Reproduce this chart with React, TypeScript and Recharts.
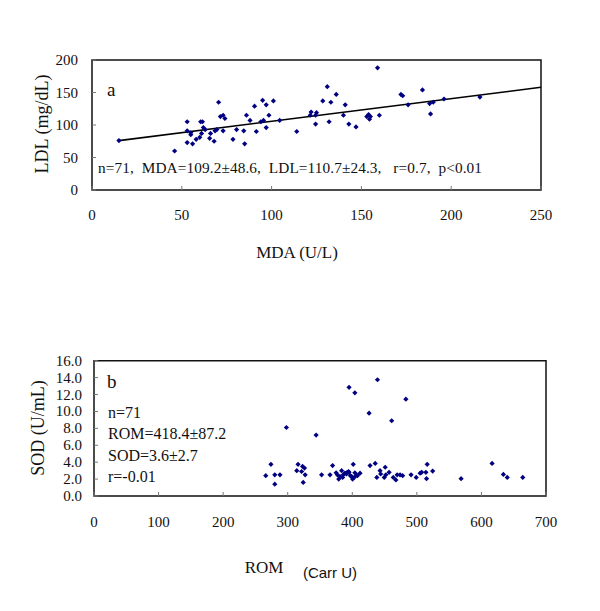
import React from "react";
import { ReferenceArea, ReferenceLine, Scatter, ScatterChart, XAxis, YAxis } from "recharts";

// panel a: MDA (U/L) vs LDL (mg/dL)
const mdaValues = [
  15, 46, 53, 53, 55, 55, 53, 56, 58, 60, 61, 60.5, 61.5, 63, 66, 65.5, 68, 68.5, 69.5, 70.5,
  71.5, 73, 74, 73, 78.5, 80.5, 84.5, 85, 86, 88, 90.5, 91.5, 94, 95, 95.5, 97, 97, 98.5, 101, 104.5,
  114, 121.5, 122, 124.5, 125, 124.5, 128.5, 131, 133, 132, 136, 141, 140, 143, 147, 159, 153, 154, 155, 154.5,
  160, 172, 173, 176, 184, 188, 188.5, 190, 196, 216, 62,
];
const ldlValues = [
  76, 60, 105, 91, 88, 85, 73, 71, 78, 81, 87, 105, 105, 93, 87, 79.5, 75, 91, 93, 135,
  113, 115, 110, 91, 78, 93, 91, 71, 115, 107, 129, 90, 105, 138, 107, 131, 96, 115, 137, 107,
  90, 115, 120, 115, 119, 101.5, 137, 159, 135, 105, 147, 131, 115, 101.5, 97, 188, 113, 116, 113, 109,
  115, 147, 145, 131, 154, 133, 117, 135, 140, 143, 96,
];
const trendMda = [15, 250];
const trendLdl = [76, 158];
const mdaTicks = [0, 50, 100, 150, 200, 250];
const ldlTicks = [0, 50, 100, 150, 200];

// panel b: ROM (Carr U) vs SOD (U/mL)
const romValues = [
  395, 298, 344, 266, 274, 280, 288, 280, 316, 314, 323, 326, 321.5, 327, 324, 352.5, 365.5, 369.5, 375, 377,
  381, 383.5, 386, 388.5, 391, 394, 404, 439, 483, 426, 461, 401.5, 391, 395, 404, 406, 408, 412, 400.5, 403,
  399, 427.5, 435.5, 438, 443, 444, 451, 449.5, 452, 457, 463.5, 467.5, 469.5, 474, 478, 491, 499, 505, 507.5, 516,
  514, 515, 524.5, 568.5, 616.5, 634, 640, 664, 379, 385, 397,
];
const sodValues = [
  12.85, 8.1, 7.2, 2.4, 3.75, 2.5, 2.5, 1.4, 3.75, 3.0, 3.5, 3.3, 2.9, 2.5, 1.6, 2.5, 2.5, 3.6, 2.75, 2.5,
  2.3, 3.0, 2.5, 2.7, 2.75, 2.9, 12.2, 13.75, 11.45, 9.8, 8.9, 3.75, 2.6, 2.8, 2.75, 2.5, 2.4, 2.7, 2.0, 2.2,
  2.3, 3.6, 3.85, 2.2, 3.0, 2.6, 3.4, 2.2, 2.5, 2.8, 2.2, 1.9, 2.5, 2.5, 2.4, 2.5, 2.2, 2.7, 2.8, 3.75,
  2.8, 2.05, 2.95, 2.05, 3.85, 2.55, 2.2, 2.2, 2.0, 2.2, 2.4,
];
const romTicks = [0, 100, 200, 300, 400, 500, 600, 700];
const sodTicks = [0, 2, 4, 6, 8, 10, 12, 14, 16];

const dataA = mdaValues.map((x, i) => ({ x, y: ldlValues[i] }));
const dataB = romValues.map((x, i) => ({ x, y: sodValues[i] }));

const SERIF = "'Liberation Serif', 'Times New Roman', serif";
const DOT = "#000080";

const Diamond = (p: any) => {
  const { cx, cy } = p;
  const r = 2.6;
  return <polygon points={`${cx},${cy - r} ${cx + r},${cy} ${cx},${cy + r} ${cx - r},${cy}`} fill={DOT} />;
};

const XTick = (p: any) => {
  const { x, y, payload, gap, fmt } = p;
  return (
    <g>
      <line x1={x} y1={y} x2={x} y2={y - 4} stroke="#777" strokeWidth={1} />
      <text x={x} y={y + gap} textAnchor="middle" dominantBaseline="central" fontFamily={SERIF} fontSize={15} fill="#111">
        {fmt ? fmt(payload.value) : payload.value}
      </text>
    </g>
  );
};

const YTick = (p: any) => {
  const { x, y, payload, gap, fmt } = p;
  return (
    <g>
      <line x1={x} y1={y} x2={x + 4} y2={y} stroke="#777" strokeWidth={1} />
      <text x={x - gap} y={y} textAnchor="end" dominantBaseline="central" fontFamily={SERIF} fontSize={15} fill="#111">
        {fmt ? fmt(payload.value) : payload.value}
      </text>
    </g>
  );
};

const abs = (left: number, top: number, extra: React.CSSProperties = {}): React.CSSProperties => ({
  position: "absolute",
  left,
  top,
  whiteSpace: "pre",
  lineHeight: 1,
  fontFamily: SERIF,
  color: "#111",
  ...extra,
});

export default function App() {
  return (
    <div style={{ position: "absolute", left: 0, top: 0, width: 600, height: 611, background: "#fff" }}>
      <div style={{ position: "absolute", left: 0, top: 0 }}>
        <ScatterChart width={600} height={260} margin={{ top: 60, right: 59, bottom: 0, left: 0 }}>
          <XAxis
            type="number"
            dataKey="x"
            domain={[0, 250]}
            ticks={mdaTicks}
            height={70}
            axisLine={false}
            tickLine={false}
            tickSize={0}
            tickMargin={0}
            interval={0}
            tick={(p: any) => <XTick {...p} gap={25} />}
          />
          <YAxis
            type="number"
            dataKey="y"
            domain={[0, 200]}
            ticks={ldlTicks}
            width={92}
            axisLine={false}
            tickLine={false}
            tickSize={0}
            tickMargin={0}
            interval={0}
            tick={(p: any) => <YTick {...p} gap={14} />}
          />
          <ReferenceArea x1={0} x2={250} y1={0} y2={200} fill="none" fillOpacity={0} stroke="#111" strokeWidth={1.5} />
          <ReferenceLine
            segment={[
              { x: trendMda[0], y: trendLdl[0] },
              { x: trendMda[1], y: trendLdl[1] },
            ]}
            stroke="#000"
            strokeWidth={1.6}
          />
          <Scatter data={dataA} shape={Diamond} isAnimationActive={false} />
        </ScatterChart>
      </div>

      <div style={{ position: "absolute", left: 0, top: 300 }}>
        <ScatterChart width={600} height={260} margin={{ top: 60.7, right: 54, bottom: 0, left: 0 }}>
          <XAxis
            type="number"
            dataKey="x"
            domain={[0, 700]}
            ticks={romTicks}
            height={64}
            axisLine={false}
            tickLine={false}
            tickSize={0}
            tickMargin={0}
            interval={0}
            tick={(p: any) => <XTick {...p} gap={26} />}
          />
          <YAxis
            type="number"
            dataKey="y"
            domain={[0, 16]}
            ticks={sodTicks}
            width={94}
            axisLine={false}
            tickLine={false}
            tickSize={0}
            tickMargin={0}
            interval={0}
            tick={(p: any) => <YTick {...p} gap={12} fmt={(v: number) => v.toFixed(1)} />}
          />
          <ReferenceArea x1={0} x2={700} y1={0} y2={16} fill="none" fillOpacity={0} stroke="#111" strokeWidth={1.5} />
          <Scatter data={dataB} shape={Diamond} isAnimationActive={false} />
        </ScatterChart>
      </div>

      {/* panel a texts */}
      <div style={abs(107, 90, { fontSize: 19, transform: "translateY(-55%)" })}>a</div>
      <div style={abs(98, 168, { fontSize: 15.3, letterSpacing: 0.1, transform: "translateY(-50%)" })}>
        {"n=71,  MDA=109.2±48.6,  LDL=110.7±24.3,   r=0.7,  p<0.01"}
      </div>
      <div style={abs(297, 252, { fontSize: 17, transform: "translate(-50%, -50%)" })}>MDA (U/L)</div>
      <div style={abs(42, 124, { fontSize: 18, transform: "translate(-50%, -50%) rotate(-90deg)" })}>LDL (mg/dL)</div>

      {/* panel b texts */}
      <div style={abs(107, 382, { fontSize: 19, transform: "translateY(-55%)" })}>b</div>
      <div style={abs(108, 413, { fontSize: 16, transform: "translateY(-50%)" })}>n=71</div>
      <div style={abs(108, 434, { fontSize: 16, transform: "translateY(-50%)" })}>ROM=418.4±87.2</div>
      <div style={abs(108, 456, { fontSize: 16, transform: "translateY(-50%)" })}>SOD=3.6±2.7</div>
      <div style={abs(108, 477, { fontSize: 16, transform: "translateY(-50%)" })}>r=-0.01</div>
      <div style={abs(264, 567, { fontSize: 17, transform: "translate(-50%, -50%)" })}>ROM</div>
      <div
        style={abs(330, 572, {
          fontSize: 15,
          fontFamily: "'Liberation Sans', Arial, sans-serif",
          transform: "translate(-50%, -50%)",
        })}
      >
        (Carr U)
      </div>
      <div style={abs(38, 428, { fontSize: 18, transform: "translate(-50%, -50%) rotate(-90deg)" })}>SOD (U/mL)</div>
    </div>
  );
}
